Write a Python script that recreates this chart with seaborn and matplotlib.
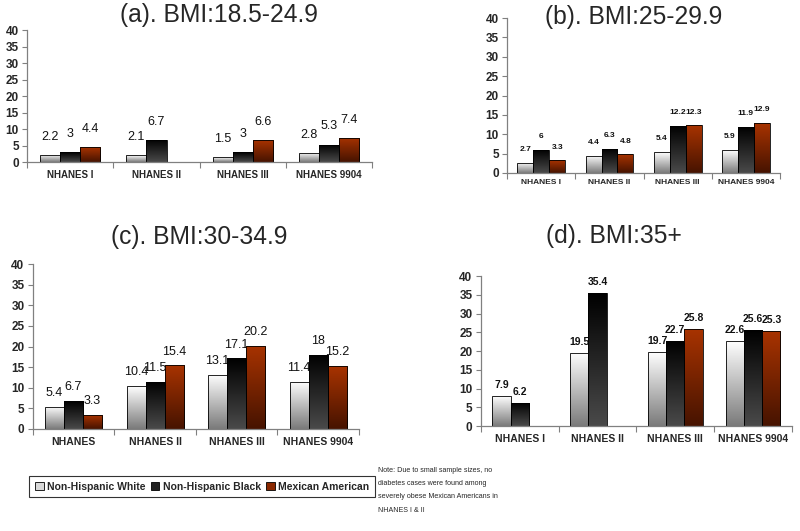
import numpy as np
import pandas as pd
import matplotlib
matplotlib.use("Agg")
import matplotlib.pyplot as plt
import seaborn as sns
from matplotlib.colors import LinearSegmentedColormap
from matplotlib.patches import Patch
from matplotlib import font_manager

sns.set_style("white")
plt.rcParams["font.family"] = ["Liberation Sans", "DejaVu Sans"]
names = {f.name for f in font_manager.fontManager.ttflist}
NARROW = "Liberation Sans Narrow" if "Liberation Sans Narrow" in names else "Liberation Sans"
IS_NARROW = NARROW == "Liberation Sans Narrow"

# ---------------- data ----------------
groups = ["Non-Hispanic White", "Non-Hispanic Black", "Mexican American"]
surveys = ["NHANES I", "NHANES II", "NHANES III", "NHANES 9904"]
surveys_c = ["NHANES", "NHANES II", "NHANES III", "NHANES 9904"]

a_white = [2.2, 2.1, 1.5, 2.8]
a_black = [3, 6.7, 3, 5.3]
a_mex = [4.4, np.nan, 6.6, 7.4]

b_white = [2.7, 4.4, 5.4, 5.9]
b_black = [6, 6.3, 12.2, 11.9]
b_mex = [3.3, 4.8, 12.3, 12.9]

c_white = [5.4, 10.4, 13.1, 11.4]
c_black = [6.7, 11.5, 17.1, 18]
c_mex = [3.3, 15.4, 20.2, 15.2]

d_white = [7.9, 19.5, 19.7, 22.6]
d_black = [6.2, 35.4, 22.7, 25.6]
d_mex = [np.nan, np.nan, 25.8, 25.3]

titles = ["(a). BMI:18.5-24.9", "(b). BMI:25-29.9", "(c). BMI:30-34.9", "(d). BMI:35+"]
note = ("Note: Due to small sample sizes, no\ndiabetes cases were found among\n"
        "severely obese Mexican Americans in\nNHANES I & II")

# gradient colours (top, bottom) per group
grad = {
    "Non-Hispanic White": ("#ffffff", "#7a7a7a"),
    "Non-Hispanic Black": ("#000000", "#4a4a4a"),
    "Mexican American": ("#a83300", "#461300"),
}
solid = {"Non-Hispanic White": "#d8d8d8", "Non-Hispanic Black": "#222222",
         "Mexican American": "#8a2800"}


def make_df(cats, w, b, m):
    rows = []
    for g, vals in zip(groups, [w, b, m]):
        for c, v in zip(cats, vals):
            rows.append({"survey": c, "group": g, "value": v})
    return pd.DataFrame(rows)


fig = plt.figure(figsize=(8.0, 5.31), dpi=100)

panels = [
    dict(rect=[0.034, 0.6949, 0.431, 0.2486], cats=surveys, data=(a_white, a_black, a_mex),
         vbold=False, vsize=9, voff=13, xsize=7, xpad=6, title_xy=(219, 15)),
    dict(rect=[0.634, 0.6742, 0.341, 0.2919], cats=surveys, data=(b_white, b_black, b_mex),
         vbold=True, vsize=6, voff=9.5, xsize=6, xpad=4, title_xy=(634, 17)),
    dict(rect=[0.041, 0.1921, 0.4075, 0.3107], cats=surveys_c, data=(c_white, c_black, c_mex),
         vbold=False, vsize=9, voff=10, xsize=7.5, xpad=6, title_xy=(199, 237)),
    dict(rect=[0.601, 0.1977, 0.389, 0.2825], cats=surveys, data=(d_white, d_black, d_mex),
         vbold=True, vsize=7.5, voff=8, xsize=7.5, xpad=6, title_xy=(614, 236)),
]

for p, title in zip(panels, titles):
    ax = fig.add_axes(p["rect"])
    df = make_df(p["cats"], *p["data"])
    sns.barplot(data=df, x="survey", y="value", hue="group", order=p["cats"],
                hue_order=groups, palette=solid, width=0.7, dodge=True,
                edgecolor="black", linewidth=0.6, legend=False, ax=ax, errorbar=None)
    ax.set_xlim(-0.5, 3.5)
    ax.set_ylim(0, 40)
    # gradients
    for cont, g in zip(ax.containers, groups):
        cmap = LinearSegmentedColormap.from_list(g, [grad[g][1], grad[g][0]])
        for bar in cont:
            h = bar.get_height()
            if not np.isfinite(h) or h <= 0:
                continue
            x0, w = bar.get_x(), bar.get_width()
            im = ax.imshow(np.linspace(0, 1, 256).reshape(-1, 1), cmap=cmap, origin="lower",
                           extent=[x0, x0 + w, 0, h], aspect="auto", zorder=0.8,
                           interpolation="bilinear")
            im.set_clip_path(bar)
            bar.set_facecolor("none")
            bar.set_zorder(1)
            ax.annotate(f"{h:g}", (x0 + w / 2, h), xytext=(0, p["voff"]),
                        textcoords="offset points", ha="center", va="center",
                        fontsize=p["vsize"], fontweight="bold" if p["vbold"] else "normal",
                        color="#111111", zorder=0.5)
    ax.set_xlim(-0.5, 3.5)
    ax.set_ylim(0, 40)
    ax.set_xlabel("")
    ax.set_ylabel("")
    ax.set_yticks(range(0, 41, 5))
    ax.set_xticks([-0.5, 0.5, 1.5, 2.5, 3.5], minor=True)
    ax.tick_params(axis="x", which="major", length=0, pad=p["xpad"], labelsize=p["xsize"])
    ax.tick_params(axis="x", which="minor", length=4, width=0.8, color="#808080",
                   direction="out", bottom=True)
    ax.tick_params(axis="y", length=3.5, width=0.8, color="#808080", direction="out",
                   left=True, pad=2.5, labelsize=8.5)
    for lab in ax.get_xticklabels() + ax.get_yticklabels():
        lab.set_fontweight("bold")
    sns.despine(ax=ax)
    for s in ["left", "bottom"]:
        ax.spines[s].set_color("#808080")
        ax.spines[s].set_linewidth(0.9)
    ax.set_facecolor("white")
    tx, ty = p["title_xy"]
    fig.text(tx / 800, 1 - ty / 531, title, ha="center", va="center", fontsize=17.7)

handles = [Patch(facecolor=solid[g], edgecolor="black", linewidth=0.6) for g in groups]
leg = fig.legend(handles, groups, loc="center", bbox_to_anchor=(0.2525, 0.0838), ncol=3,
                 frameon=True, fancybox=False, edgecolor="black",
                 prop={"family": NARROW, "weight": "bold", "size": 9.5 if IS_NARROW else 7.5},
                 handlelength=0.85, handleheight=0.85, handletextpad=0.3,
                 columnspacing=0.5, borderpad=0.55, borderaxespad=0)
leg.get_frame().set_linewidth(0.8)

fig.text(378 / 800, 1 - 467 / 531, note, ha="left", va="top", family=NARROW,
         fontsize=6.5 if IS_NARROW else 5.1, linespacing=2.25)

fig.savefig("out.png", dpi=100, facecolor="white")
